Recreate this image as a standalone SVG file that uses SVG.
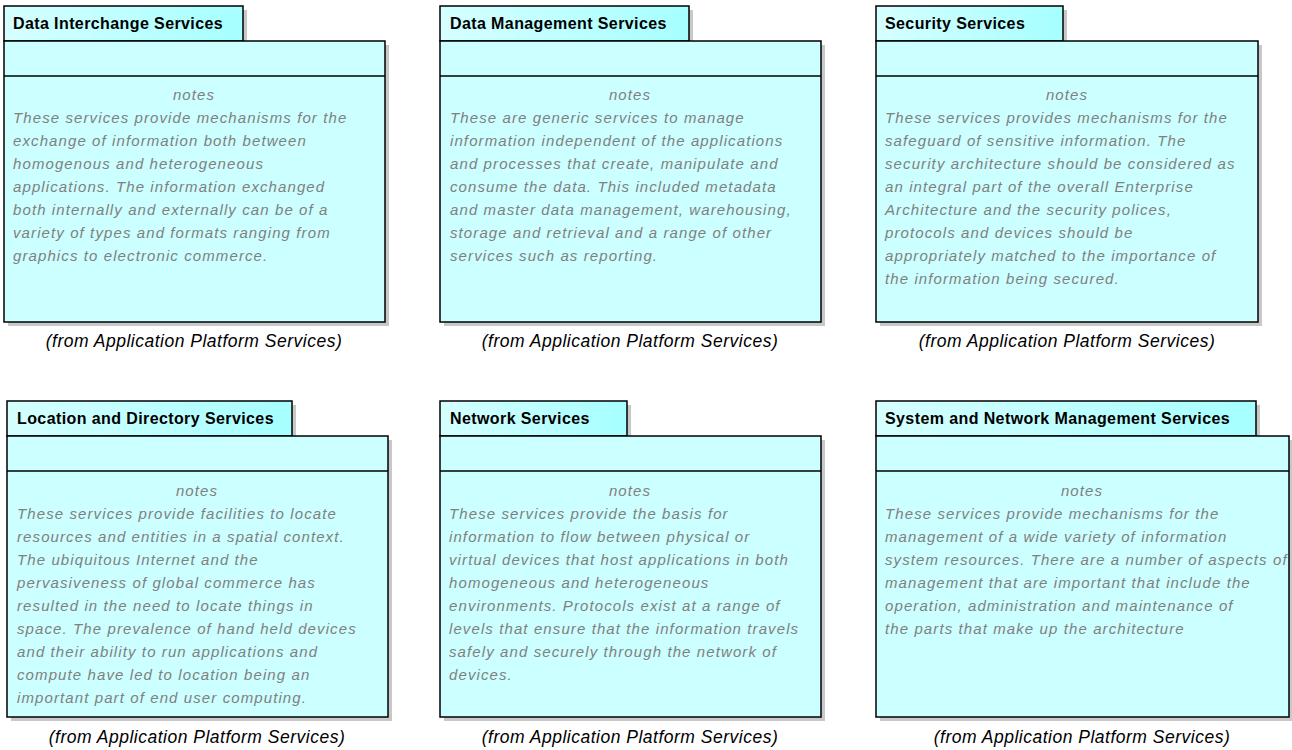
<svg xmlns="http://www.w3.org/2000/svg" width="1292" height="750" viewBox="0 0 1292 750">
<defs>
<linearGradient id="tabg" x1="0" y1="0" x2="1" y2="0">
<stop offset="0" stop-color="#d6ffff"/>
<stop offset="1" stop-color="#a6ffff"/>
</linearGradient>
</defs>
<style>
.sh{fill:#c8c8c8;}
.tab{fill:url(#tabg);stroke:#000;stroke-width:1.5;}
.body{fill:#ccffff;stroke:#000;stroke-width:1.5;}
.sep{stroke:#000;stroke-width:1.5;}
.title{font-family:"Liberation Sans",Arial,sans-serif;font-weight:bold;font-size:16px;letter-spacing:0.4px;fill:#000;}
.notes{font-family:"Liberation Sans",Arial,sans-serif;font-style:italic;font-size:15px;letter-spacing:1.1px;fill:#808080;}
.nh{text-anchor:middle;}
.from{font-family:"Liberation Sans",Arial,sans-serif;font-style:italic;font-size:17.5px;letter-spacing:0.5px;fill:#000;text-anchor:middle;}
</style>
<rect width="1292" height="750" fill="#fff"/>

<g id="data-interchange-services">
<rect class="sh" x="8" y="10" width="239" height="35"/>
<rect class="sh" x="8" y="45" width="381" height="281"/>
<rect class="tab" x="4" y="6" width="239" height="35"/>
<rect class="body" x="4" y="41" width="381" height="281"/>
<line class="sep" x1="4" y1="76" x2="385" y2="76"/>
<text class="title" x="13" y="29">Data Interchange Services</text>
<text class="notes nh" x="194" y="100">notes</text>
<text class="notes" x="13" y="123">These services provide mechanisms for the</text>
<text class="notes" x="13" y="146">exchange of information both between</text>
<text class="notes" x="13" y="169">homogenous and heterogeneous</text>
<text class="notes" x="13" y="192">applications. The information exchanged</text>
<text class="notes" x="13" y="215">both internally and externally can be of a</text>
<text class="notes" x="13" y="238">variety of types and formats ranging from</text>
<text class="notes" x="13" y="261">graphics to electronic commerce.</text>
<text class="from" x="194" y="347">(from Application Platform Services)</text>
</g>

<g id="data-management-services">
<rect class="sh" x="444" y="10" width="249" height="35"/>
<rect class="sh" x="444" y="45" width="381" height="281"/>
<rect class="tab" x="440" y="6" width="249" height="35"/>
<rect class="body" x="440" y="41" width="381" height="281"/>
<line class="sep" x1="440" y1="76" x2="821" y2="76"/>
<text class="title" x="450" y="29">Data Management Services</text>
<text class="notes nh" x="630" y="100">notes</text>
<text class="notes" x="450" y="123">These are generic services to manage</text>
<text class="notes" x="450" y="146">information independent of the applications</text>
<text class="notes" x="450" y="169">and processes that create, manipulate and</text>
<text class="notes" x="450" y="192">consume the data. This included metadata</text>
<text class="notes" x="450" y="215">and master data management, warehousing,</text>
<text class="notes" x="450" y="238">storage and retrieval and a range of other</text>
<text class="notes" x="450" y="261">services such as reporting.</text>
<text class="from" x="630" y="347">(from Application Platform Services)</text>
</g>

<g id="security-services">
<rect class="sh" x="880" y="10" width="187" height="35"/>
<rect class="sh" x="880" y="45" width="382" height="281"/>
<rect class="tab" x="876" y="6" width="187" height="35"/>
<rect class="body" x="876" y="41" width="382" height="281"/>
<line class="sep" x1="876" y1="76" x2="1258" y2="76"/>
<text class="title" x="885" y="29">Security Services</text>
<text class="notes nh" x="1067" y="100">notes</text>
<text class="notes" x="885" y="123">These services provides mechanisms for the</text>
<text class="notes" x="885" y="146">safeguard of sensitive information. The</text>
<text class="notes" x="885" y="169">security architecture should be considered as</text>
<text class="notes" x="885" y="192">an integral part of the overall Enterprise</text>
<text class="notes" x="885" y="215">Architecture and the security polices,</text>
<text class="notes" x="885" y="238">protocols and devices should be</text>
<text class="notes" x="885" y="261">appropriately matched to the importance of</text>
<text class="notes" x="885" y="284">the information being secured.</text>
<text class="from" x="1067" y="347">(from Application Platform Services)</text>
</g>

<g id="location-and-directory-services">
<rect class="sh" x="11" y="405" width="285" height="35"/>
<rect class="sh" x="11" y="440" width="381" height="281"/>
<rect class="tab" x="7" y="401" width="285" height="35"/>
<rect class="body" x="7" y="436" width="381" height="281"/>
<line class="sep" x1="7" y1="471" x2="388" y2="471"/>
<text class="title" x="17" y="424">Location and Directory Services</text>
<text class="notes nh" x="197" y="496">notes</text>
<text class="notes" x="17" y="519">These services provide facilities to locate</text>
<text class="notes" x="17" y="542">resources and entities in a spatial context.</text>
<text class="notes" x="17" y="565">The ubiquitous Internet and the</text>
<text class="notes" x="17" y="588">pervasiveness of global commerce has</text>
<text class="notes" x="17" y="611">resulted in the need to locate things in</text>
<text class="notes" x="17" y="634">space. The prevalence of hand held devices</text>
<text class="notes" x="17" y="657">and their ability to run applications and</text>
<text class="notes" x="17" y="680">compute have led to location being an</text>
<text class="notes" x="17" y="703">important part of end user computing.</text>
<text class="from" x="197" y="743">(from Application Platform Services)</text>
</g>

<g id="network-services">
<rect class="sh" x="444" y="405" width="187" height="35"/>
<rect class="sh" x="444" y="440" width="381" height="281"/>
<rect class="tab" x="440" y="401" width="187" height="35"/>
<rect class="body" x="440" y="436" width="381" height="281"/>
<line class="sep" x1="440" y1="471" x2="821" y2="471"/>
<text class="title" x="450" y="424">Network Services</text>
<text class="notes nh" x="630" y="496">notes</text>
<text class="notes" x="449" y="519">These services provide the basis for</text>
<text class="notes" x="449" y="542">information to flow between physical or</text>
<text class="notes" x="449" y="565">virtual devices that host applications in both</text>
<text class="notes" x="449" y="588">homogeneous and heterogeneous</text>
<text class="notes" x="449" y="611">environments. Protocols exist at a range of</text>
<text class="notes" x="449" y="634">levels that ensure that the information travels</text>
<text class="notes" x="449" y="657">safely and securely through the network of</text>
<text class="notes" x="449" y="680">devices.</text>
<text class="from" x="630" y="743">(from Application Platform Services)</text>
</g>

<g id="system-and-network-management-services">
<rect class="sh" x="880" y="405" width="380" height="35"/>
<rect class="sh" x="880" y="440" width="413" height="281"/>
<rect class="tab" x="876" y="401" width="380" height="35"/>
<rect class="body" x="876" y="436" width="413" height="281"/>
<line class="sep" x1="876" y1="471" x2="1289" y2="471"/>
<text class="title" x="885" y="424">System and Network Management Services</text>
<text class="notes nh" x="1082" y="496">notes</text>
<text class="notes" x="885" y="519">These services provide mechanisms for the</text>
<text class="notes" x="885" y="542">management of a wide variety of information</text>
<text class="notes" x="885" y="565">system resources. There are a number of aspects of</text>
<text class="notes" x="885" y="588">management that are important that include the</text>
<text class="notes" x="885" y="611">operation, administration and maintenance of</text>
<text class="notes" x="885" y="634">the parts that make up the architecture</text>
<text class="from" x="1082" y="743">(from Application Platform Services)</text>
</g>

<g id="connectors"/>
</svg>
